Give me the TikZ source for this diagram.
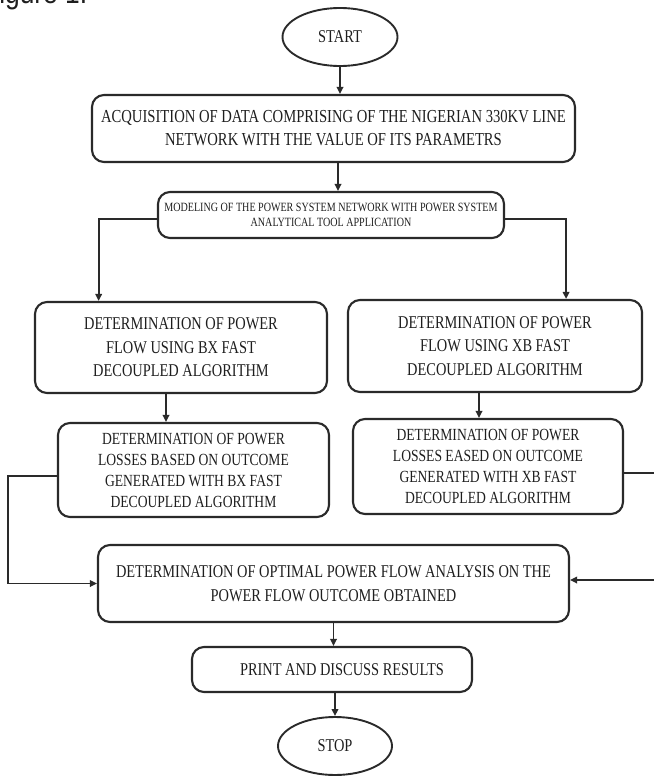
\documentclass[tikz,border=0pt]{standalone}
\usepackage{fontspec}
\setmainfont{Liberation Serif}[FakeStretch=0.8]
\newfontfamily\captionfont{Liberation Sans}[FakeStretch=0.85]
\usetikzlibrary{shapes.geometric,arrows.meta,calc}

\definecolor{ink}{HTML}{1E1E1E}
\definecolor{edge}{HTML}{2A2A2A}

\tikzset{
  terminal/.style={ellipse, draw=edge, line width=1.9pt, inner sep=0pt,
    text=ink, font=\fontsize{18}{22}\selectfont},
  procbox/.style={rectangle, rounded corners=12pt, draw=edge, line width=2.1pt,
    inner sep=0pt, align=center, text=ink, font=\fontsize{18}{23.5}\selectfont},
  flow/.style={draw=edge, line width=1.8pt,
    -{Triangle[length=7pt,width=6.5pt]}},
}

\begin{document}
\begin{tikzpicture}[x=1pt, y=-1pt]
  \useasboundingbox (0,0) rectangle (653,776);

  % caption, partly cut by the page edge
  \node[anchor=base west, inner sep=0pt, text=ink,
        font=\captionfont\fontsize{31}{34}\selectfont] (cap) at (-17,4) {Figure 1:};

  % terminals
  \node[terminal, minimum width=115pt, minimum height=58pt] (start) at (340,37) {START};
  \node[terminal, minimum width=114pt, minimum height=58pt] (stop) at (335,746) {STOP};

  % process boxes
  \node[procbox, minimum width=483pt, minimum height=67pt,
        font=\fontsize{18.3}{23}\selectfont] (acq) at (333.5,128.5)
    {ACQUISITION OF DATA COMPRISING OF THE NIGERIAN 330KV LINE\\
     NETWORK WITH THE VALUE OF ITS PARAMETRS};

  \node[procbox, minimum width=346pt, minimum height=46pt,
        font=\fontsize{12.6}{15}\selectfont] (model) at (331,215)
    {MODELING OF THE POWER SYSTEM NETWORK WITH POWER SYSTEM\\
     ANALYTICAL TOOL APPLICATION};

  \node[procbox, minimum width=292pt, minimum height=91pt] (bx) at (181,347.5)
    {DETERMINATION OF POWER\\ FLOW USING BX FAST\\ DECOUPLED ALGORITHM};

  \node[procbox, minimum width=294pt, minimum height=92pt] (xb) at (495,346)
    {DETERMINATION OF POWER\\ FLOW USING XB FAST\\ DECOUPLED ALGORITHM};

  \node[procbox, minimum width=271pt, minimum height=94pt,
        font=\fontsize{17}{21}\selectfont] (lbx) at (193.5,470)
    {DETERMINATION OF POWER\\ LOSSES BASED ON OUTCOME\\
     GENERATED WITH BX FAST\\ DECOUPLED ALGORITHM};

  \node[procbox, minimum width=270pt, minimum height=95pt,
        font=\fontsize{17}{21}\selectfont] (lxb) at (488,466.5)
    {DETERMINATION OF POWER\\ LOSSES EASED ON OUTCOME\\
     GENERATED WITH XB FAST\\ DECOUPLED ALGORITHM};

  \node[procbox, minimum width=471pt, minimum height=77pt,
        font=\fontsize{18}{24}\selectfont] (opt) at (333.5,583.5)
    {DETERMINATION OF OPTIMAL POWER FLOW ANALYSIS ON THE\\
     POWER FLOW OUTCOME OBTAINED};

  \node[procbox, minimum width=280pt, minimum height=45pt] (print) at (332,669.5)
    {\hspace*{20pt}PRINT AND DISCUSS RESULTS};

  % connector end points on the box edges
  \coordinate (acqout)  at ($(acq.south)+(4.5,0)$);
  \coordinate (bxout)   at ($(bx.south)+(-15,0)$);
  \coordinate (xbout)   at ($(xb.south)+(-16,0)$);
  \coordinate (prout)   at ($(print.south)+(3,0)$);
  \coordinate (bxin)    at ($(bx.north west)!0.22!(bx.north east)$);
  \coordinate (xbin)    at ($(xb.north west)!0.74!(xb.north east)$);
  \coordinate (modl)    at ($(model.west)+(0,4)$);
  \coordinate (modr)    at ($(model.east)+(0,4)$);
  \coordinate (lbxout)  at ($(lbx.west)+(0,6)$);
  \coordinate (lxbout)  at ($(lxb.east)+(0,6.5)$);
  \coordinate (optin)   at ($(opt.east)+(0,-3.5)$);

  % connectors
  \draw[flow] (start.south) -- (start.south |- acq.north);
  \draw[flow] (acqout) -- (acqout |- model.north);
  \draw[flow] (modl) -| (bxin);
  \draw[flow] (modr) -| (xbin);
  \draw[flow] (bxout) -- (bxout |- lbx.north);
  \draw[flow] (xbout) -- (xbout |- lxb.north);
  \draw[flow] (lbxout) -- ++(-49,0) |- (opt.west);
  \draw[flow] (lxbout) -- ++(50,0) |- (optin);
  \draw[flow] (opt.south) -- (opt.south |- print.north);
  \draw[flow] (prout) -- (prout |- stop.north);
\end{tikzpicture}
\end{document}
